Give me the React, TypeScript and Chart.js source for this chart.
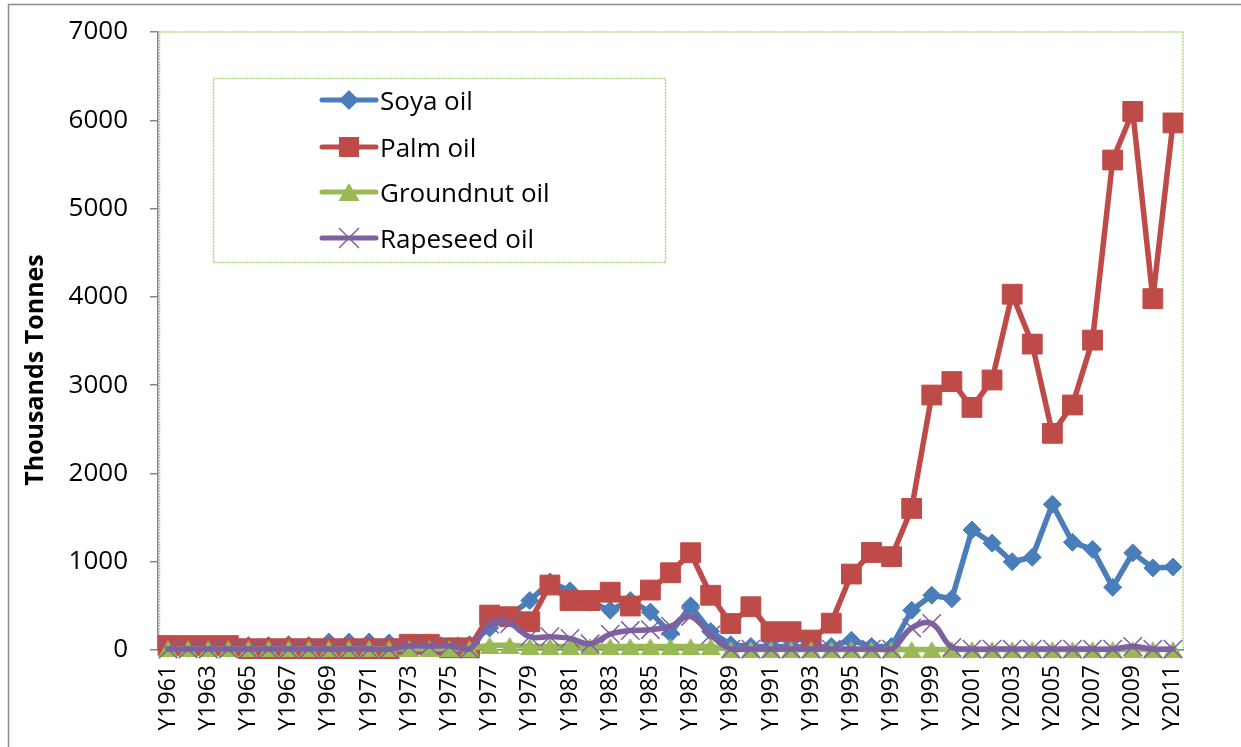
import React, { useEffect, useRef } from "react";
import { Chart, registerables } from "chart.js";

Chart.register(...registerables);

// Import volumes by year, thousands of tonnes
const years = [
  "Y1961", "Y1962", "Y1963", "Y1964", "Y1965", "Y1966", "Y1967", "Y1968", "Y1969", "Y1970",
  "Y1971", "Y1972", "Y1973", "Y1974", "Y1975", "Y1976", "Y1977", "Y1978", "Y1979", "Y1980",
  "Y1981", "Y1982", "Y1983", "Y1984", "Y1985", "Y1986", "Y1987", "Y1988", "Y1989", "Y1990",
  "Y1991", "Y1992", "Y1993", "Y1994", "Y1995", "Y1996", "Y1997", "Y1998", "Y1999", "Y2000",
  "Y2001", "Y2002", "Y2003", "Y2004", "Y2005", "Y2006", "Y2007", "Y2008", "Y2009", "Y2010",
  "Y2011",
];

const soyaOil = [
  20, 20, 20, 20, 50, 50, 60, 50, 90, 90,
  90, 80, 60, 40, 40, 60, 250, 390, 560, 770,
  670, 540, 450, 560, 430, 190, 500, 210, 60, 40,
  40, 40, 30, 40, 110, 40, 40, 450, 620, 580,
  1360, 1210, 1000, 1050, 1650, 1220, 1140, 710, 1100, 930,
  940,
];

const palmOil = [
  50, 50, 50, 50, 15, 15, 15, 15, 15, 15,
  15, 15, 65, 65, 25, 25, 396, 377, 320, 736,
  560, 560, 655, 498, 679, 875, 1102, 620, 300, 490,
  207, 207, 113, 304, 860, 1105, 1057, 1604, 2888, 3040,
  2748, 3058, 4030, 3465, 2454, 2775, 3510, 5550, 6100, 3980,
  5970,
];

const groundnutOil = [
  15, 15, 15, 15, 15, 15, 15, 15, 15, 15,
  15, 15, 15, 15, 15, 15, 55, 55, 40, 40,
  40, 40, 40, 40, 40, 40, 40, 40, 5, 5,
  5, 5, 5, 5, 5, 5, 5, 5, 5, 5,
  5, 5, 5, 5, 5, 5, 5, 5, 5, 5,
  5,
];

const rapeseedOil = [
  10, 10, 10, 10, 10, 10, 10, 10, 10, 10,
  10, 10, 45, 45, 45, 10, 290, 300, 150, 150,
  130, 70, 180, 220, 230, 270, 380, 170, 10, 10,
  10, 10, 10, 10, 10, 10, 10, 250, 300, 30,
  10, 10, 10, 10, 10, 10, 10, 10, 40, 10,
  10,
];

const yTicks = { min: 0, max: 7000, step: 1000 };
const axisTitle = "Thousands Tonnes";

const SOYA = "#4A7EBB";
const PALM = "#BE4B48";
const GROUNDNUT = "#98B954";
const RAPESEED = "#7D60A0";
const FONT = '"Open Sans", "Liberation Sans", sans-serif';

function triangleMarker(color: string, w: number, h: number) {
  const c = document.createElement("canvas");
  c.width = w;
  c.height = h;
  const g = c.getContext("2d")!;
  g.fillStyle = color;
  g.beginPath();
  g.moveTo(w / 2, 0);
  g.lineTo(w, h);
  g.lineTo(0, h);
  g.closePath();
  g.fill();
  return c;
}

export default function App() {
  const ref = useRef<HTMLCanvasElement>(null);

  useEffect(() => {
    let chart: Chart | null = null;
    let cancelled = false;

    const build = () => {
      if (cancelled || !ref.current) return;
      const tri = triangleMarker(GROUNDNUT, 20, 17);

      const series = [
        { label: "Soya oil", color: SOYA, style: "rectRot" as any },
        { label: "Palm oil", color: PALM, style: "rect" as any },
        { label: "Groundnut oil", color: GROUNDNUT, style: tri as any },
        { label: "Rapeseed oil", color: RAPESEED, style: "crossRot" as any },
      ];

      // frame around the whole figure and the plot area
      const frame = {
        id: "frame",
        beforeDraw(c: any) {
          const { ctx, chartArea: a } = c;
          ctx.save();
          ctx.strokeStyle = "#8c8c8c";
          ctx.lineWidth = 1.5;
          ctx.strokeRect(8.5, 4.5, 1400, 900);
          ctx.strokeStyle = "#a9d873";
          ctx.lineWidth = 1.5;
          ctx.setLineDash([2, 1]);
          ctx.strokeRect(a.left + 1.5, a.top, a.right - a.left - 1.5, a.bottom - a.top);
          ctx.restore();
        },
      };

      // rotated value-axis title
      const yTitle = {
        id: "yTitle",
        afterDraw(c: any) {
          const { ctx } = c;
          ctx.save();
          ctx.translate(36, 370);
          ctx.rotate(-Math.PI / 2);
          ctx.font = `bold 25px ${FONT}`;
          ctx.fillStyle = "#000";
          ctx.textAlign = "center";
          ctx.textBaseline = "middle";
          ctx.fillText(axisTitle, 0, 0);
          ctx.restore();
        },
      };

      // boxed legend inside the plot area
      const boxLegend = {
        id: "boxLegend",
        afterDatasetsDraw(c: any) {
          const { ctx, chartArea: a } = c;
          const left = a.left + 55;
          const top = a.top + 46;
          ctx.save();
          ctx.fillStyle = "#fff";
          ctx.fillRect(left, top, 452, 184);
          ctx.strokeStyle = "#a9d873";
          ctx.lineWidth = 1.5;
          ctx.setLineDash([2, 1]);
          ctx.strokeRect(left + 0.5, top + 0.5, 452, 184);
          ctx.setLineDash([]);
          const rows = [22, 69, 114, 160];
          series.forEach((s, i) => {
            const y = top + rows[i];
            const x0 = left + 109;
            const x1 = left + 163;
            const xm = (x0 + x1) / 2;
            ctx.strokeStyle = s.color;
            ctx.lineWidth = 5;
            ctx.lineCap = "round";
            ctx.beginPath();
            ctx.moveTo(x0, y);
            ctx.lineTo(x1, y);
            ctx.stroke();
            ctx.fillStyle = s.color;
            ctx.beginPath();
            if (i === 0) {
              ctx.moveTo(xm, y - 10);
              ctx.lineTo(xm + 10, y);
              ctx.lineTo(xm, y + 10);
              ctx.lineTo(xm - 10, y);
              ctx.closePath();
              ctx.fill();
            } else if (i === 1) {
              ctx.fillRect(xm - 10, y - 10, 20, 20);
            } else if (i === 2) {
              ctx.moveTo(xm, y - 9);
              ctx.lineTo(xm + 10.5, y + 9);
              ctx.lineTo(xm - 10.5, y + 9);
              ctx.closePath();
              ctx.fill();
            } else {
              ctx.lineWidth = 1.5;
              ctx.lineCap = "butt";
              ctx.moveTo(xm - 10, y - 10);
              ctx.lineTo(xm + 10, y + 10);
              ctx.moveTo(xm + 10, y - 10);
              ctx.lineTo(xm - 10, y + 10);
              ctx.stroke();
            }
            ctx.fillStyle = "#000";
            ctx.font = `26px ${FONT}`;
            ctx.textAlign = "left";
            ctx.textBaseline = "alphabetic";
            ctx.fillText(s.label, left + 167, y + 10);
          });
          ctx.restore();
        },
      };

      const values = [soyaOil, palmOil, groundnutOil, rapeseedOil];
      const radii = [9, 14, 10, 13];
      const tension = [0, 0, 0, 0.4];

      chart = new Chart(ref.current, {
        type: "line",
        data: {
          labels: years,
          datasets: series.map((s, i) => ({
            label: s.label,
            data: values[i],
            borderColor: s.color,
            backgroundColor: s.color,
            borderWidth: 5.5,
            borderCapStyle: "round",
            borderJoinStyle: "round",
            pointStyle: s.style,
            pointRadius: radii[i],
            pointBackgroundColor: s.color,
            pointBorderColor: s.color,
            pointBorderWidth: i === 3 ? 1.5 : 1,
            tension: tension[i],
            order: 4 - i,
            clip: false as any,
          })),
        },
        options: {
          animation: false,
          responsive: true,
          maintainAspectRatio: false,
          layout: { padding: { top: 32, right: 58, left: 0, bottom: 0 } },
          plugins: {
            legend: { display: false },
            tooltip: { enabled: false },
          },
          scales: {
            x: {
              type: "category",
              offset: true,
              grid: { display: false, drawTicks: false },
              border: { color: "#868686", width: 1.5 },
              afterFit: (s: any) => {
                s.height = 97;
              },
              ticks: {
                autoSkip: false,
                minRotation: 90,
                maxRotation: 90,
                padding: 15,
                color: "#000",
                font: { family: FONT, size: 23 },
                callback: (_v: any, i: number) => (i % 2 === 0 ? years[i] : ""),
              },
            },
            y: {
              min: yTicks.min,
              max: yTicks.max,
              grid: {
                drawOnChartArea: false,
                color: "#868686",
                lineWidth: 1.5,
                tickLength: 8,
              },
              border: { color: "#868686", width: 1.5 },
              afterFit: (s: any) => {
                s.width = 158;
                s.paddingTop = 0;
                s.paddingBottom = 0;
              },
              ticks: {
                stepSize: yTicks.step,
                padding: 22,
                color: "#000",
                font: { family: FONT, size: 26 },
                callback: (v: any) => String(v),
              },
            },
          },
        },
        plugins: [frame, yTitle, boxLegend],
      });
    };

    Promise.all([
      document.fonts.load(`26px "Open Sans"`),
      document.fonts.load(`bold 25px "Open Sans"`),
    ]).then(build, build);

    return () => {
      cancelled = true;
      if (chart) chart.destroy();
    };
  }, []);

  return (
    <div style={{ position: "fixed", left: 0, top: 0, width: 1241, height: 747, background: "#fff" }}>
      <canvas ref={ref} />
    </div>
  );
}
